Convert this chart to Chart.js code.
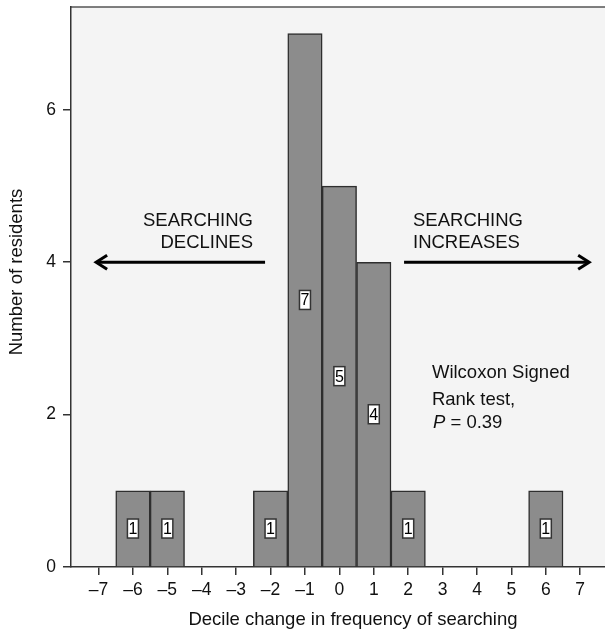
<!DOCTYPE html>
<html>
<head>
<meta charset="utf-8">
<script src="https://cdn.jsdelivr.net/npm/chart.js@4/dist/chart.umd.min.js"></script>
<style>
  body { margin: 0; background: #fff; }
  canvas { display: block; }
</style>
</head>
<body>
<canvas id="histChart" width="605" height="633"></canvas>
<script>
// data
const deciles = [-6, -5, -2, -1, 0, 1, 2, 6];
const residents = [1, 1, 1, 7, 5, 4, 1, 1];
const xTickValues = [-7, -6, -5, -4, -3, -2, -1, 0, 1, 2, 3, 4, 5, 6, 7];
const yTickValues = [0, 2, 4, 6];

const FONT = '"Liberation Sans", Arial, Helvetica, sans-serif';
const AXIS_COLOR = '#333';
const TEXT_SIZE = 18.5;

function fmtTick(v) {
  return v < 0 ? '\u2013' + Math.abs(v) : String(v);
}

// plot background, top border, titles, arrows and notes
const decorations = {
  id: 'decorations',
  beforeDraw(chart) {
    const { ctx, chartArea: a } = chart;
    ctx.save();
    ctx.fillStyle = '#f4f4f4';
    ctx.fillRect(a.left, a.top, a.right - a.left, a.bottom - a.top);
    ctx.strokeStyle = '#555';
    ctx.lineWidth = 1.5;
    ctx.beginPath();
    ctx.moveTo(a.left, a.top);
    ctx.lineTo(a.right, a.top);
    ctx.stroke();
    ctx.restore();
  },
  afterDatasetsDraw(chart) {
    const { ctx } = chart;
    const meta = chart.getDatasetMeta(0);
    ctx.save();
    ctx.font = '16px ' + FONT;
    ctx.textAlign = 'center';
    ctx.textBaseline = 'middle';
    meta.data.forEach((bar, i) => {
      const cy = (bar.y + bar.base) / 2;
      const w = 11, h = 19;
      ctx.fillStyle = '#fff';
      ctx.fillRect(bar.x - w / 2, cy - h / 2, w, h);
      ctx.strokeStyle = '#333';
      ctx.lineWidth = 1.5;
      ctx.strokeRect(bar.x - w / 2, cy - h / 2, w, h);
      ctx.fillStyle = '#000';
      ctx.fillText(String(residents[i]), bar.x, cy + 1);
    });
    ctx.restore();
  },
  afterDraw(chart) {
    const { ctx } = chart;
    const xs = chart.scales.x, ys = chart.scales.y;
    const X = v => xs.getPixelForValue(v);
    const Y = v => ys.getPixelForValue(v);
    const f = TEXT_SIZE + 'px ' + FONT;

    ctx.save();
    ctx.fillStyle = '#111';
    ctx.font = f;
    ctx.textBaseline = 'middle';

    // axis titles
    ctx.textAlign = 'center';
    ctx.fillText('Decile change in frequency of searching', 353, 620);
    ctx.save();
    ctx.translate(17, 272);
    ctx.rotate(-Math.PI / 2);
    ctx.fillText('Number of residents', 0, 0);
    ctx.restore();

    // arrow labels
    ctx.textAlign = 'right';
    ctx.fillText('SEARCHING', X(-2.51), Y(4.54));
    ctx.fillText('DECLINES', X(-2.51), Y(4.26));
    ctx.textAlign = 'left';
    ctx.fillText('SEARCHING', X(2.14), Y(4.54));
    ctx.fillText('INCREASES', X(2.14), Y(4.26));

    // test note
    ctx.fillText('Wilcoxon Signed', X(2.69), Y(2.55));
    ctx.fillText('Rank test,', X(2.69), Y(2.19));
    ctx.font = 'italic ' + f;
    ctx.fillText('P', X(2.72), Y(1.89));
    const pw = ctx.measureText('P').width;
    ctx.font = f;
    ctx.fillText(' = 0.39', X(2.72) + pw, Y(1.89));

    // arrows
    function arrow(x1, x2, y) {
      const dir = Math.sign(x2 - x1);
      ctx.strokeStyle = '#000';
      ctx.lineWidth = 3;
      ctx.lineCap = 'butt';
      ctx.beginPath();
      ctx.moveTo(x1, y);
      ctx.lineTo(x2 - dir * 2, y);
      ctx.stroke();
      ctx.lineJoin = 'miter';
      ctx.beginPath();
      ctx.moveTo(x2 - dir * 11, y - 7);
      ctx.lineTo(x2, y);
      ctx.lineTo(x2 - dir * 11, y + 7);
      ctx.stroke();
    }
    arrow(X(-2.16), X(-7.07), Y(4));
    arrow(X(1.88), X(7.26), Y(4));
    ctx.restore();
  }
};

new Chart(document.getElementById('histChart'), {
  type: 'bar',
  data: {
    datasets: [{
      data: deciles.map((d, i) => ({ x: d, y: residents[i] })),
      backgroundColor: '#8c8c8c',
      borderColor: '#2e2e2e',
      borderWidth: 1.5,
      barPercentage: 1,
      categoryPercentage: 1
    }]
  },
  options: {
    responsive: false,
    animation: false,
    layout: { padding: { top: 7, right: 0, left: 0, bottom: 0 } },
    plugins: {
      legend: { display: false },
      tooltip: { enabled: false }
    },
    scales: {
      x: {
        type: 'linear',
        offset: false,
        min: -7.8,
        max: 7.72,
        afterBuildTicks: s => { s.ticks = xTickValues.map(v => ({ value: v })); },
        afterFit: s => { s.height = 66; s.paddingLeft = 0; s.paddingRight = 0; },
        ticks: {
          callback: v => fmtTick(v),
          color: '#111',
          font: { family: FONT, size: 17.5 },
          padding: 5,
          maxRotation: 0,
          autoSkip: false
        },
        grid: {
          offset: false,
          drawOnChartArea: false,
          color: AXIS_COLOR,
          lineWidth: 1.5,
          tickLength: 8
        },
        border: { display: true, color: AXIS_COLOR, width: 1.5 }
      },
      y: {
        min: 0,
        max: 7.35,
        afterBuildTicks: s => { s.ticks = yTickValues.map(v => ({ value: v })); },
        afterFit: s => { s.width = 71; s.paddingTop = 0; s.paddingBottom = 0; },
        ticks: {
          color: '#111',
          font: { family: FONT, size: 17.5 },
          padding: 7
        },
        grid: {
          drawOnChartArea: false,
          color: AXIS_COLOR,
          lineWidth: 1.5,
          tickLength: 8
        },
        border: { display: true, color: AXIS_COLOR, width: 1.5 }
      }
    }
  },
  plugins: [decorations]
});
</script>
</body>
</html>
